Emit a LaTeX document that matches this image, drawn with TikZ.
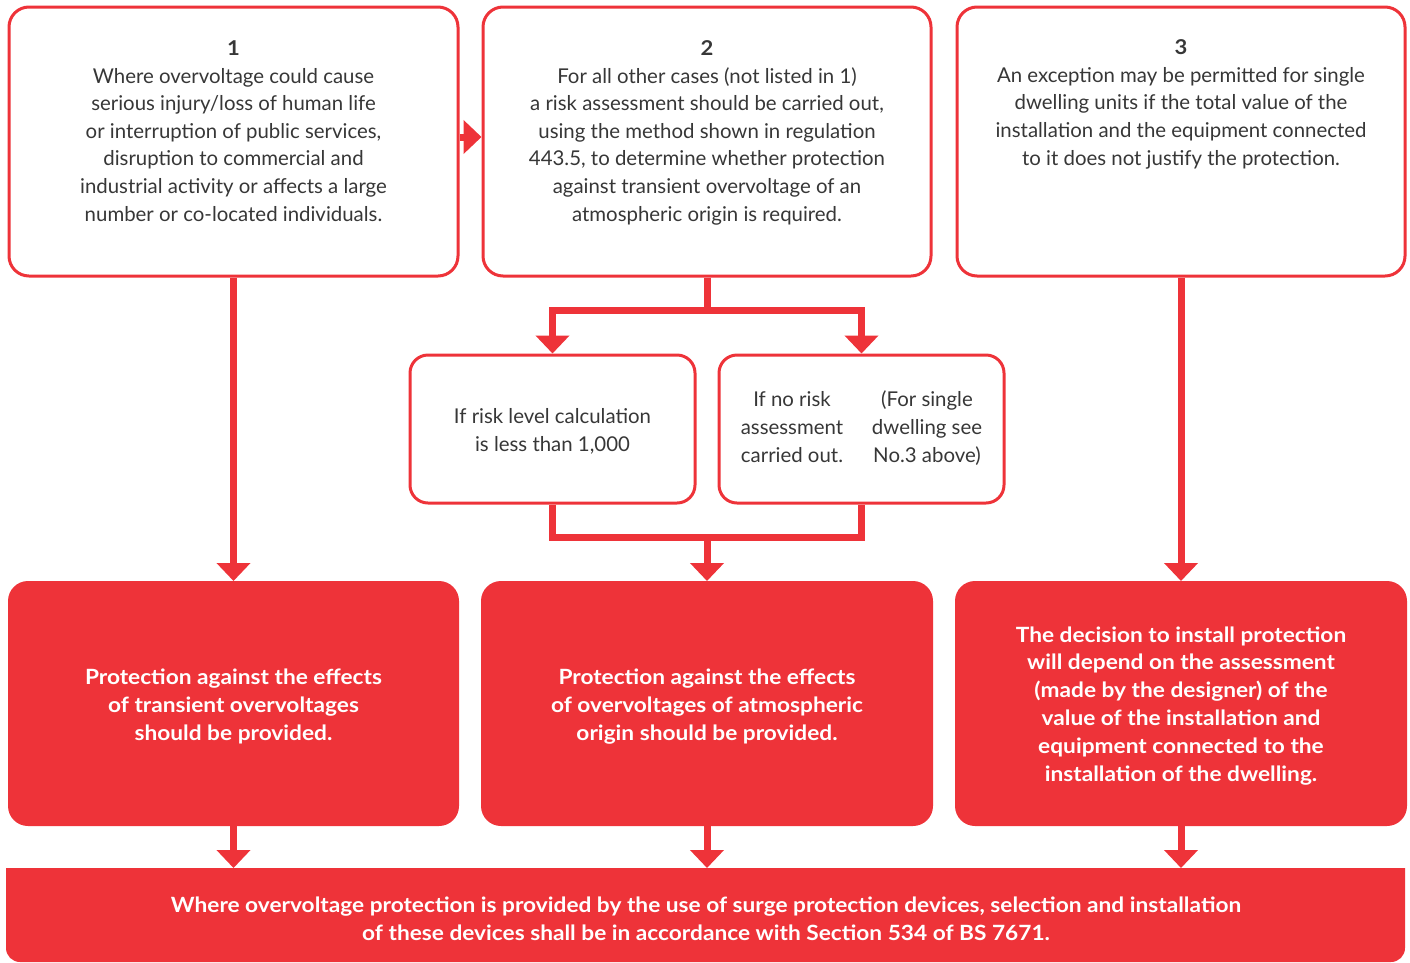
\documentclass[tikz,border=0pt]{standalone}
\usepackage{fontspec}
\setmainfont{Lato}[BoldFeatures={FakeStretch=1.08}]
\usetikzlibrary{arrows.meta}
\definecolor{rd}{RGB}{238,51,57}
\definecolor{tx}{RGB}{55,55,55}
\begin{document}
\begin{tikzpicture}[x=1pt,y=-1pt,
 box/.style={draw=rd, line width=3pt, rounded corners=20pt, fill=white, inner sep=0},
 sbox/.style={draw=rd, line width=3pt, rounded corners=18pt, fill=white, inner sep=0},
 fbox/.style={fill=rd, rounded corners=20pt, inner sep=0, outer sep=0},
 txt/.style={align=center, text=tx, font=\fontsize{20.4}{27.6}\selectfont, inner sep=0},
 wtxt/.style={align=center, text=white, font=\fontsize{21}{27.8}\selectfont\bfseries, inner sep=0},
 conn/.style={draw=rd, line width=7pt},
 arr/.style={conn, -{Triangle[width=33pt,length=18pt]}},
]
\useasboundingbox (0,0) rectangle (1410,962);

% top boxes
\node[box, minimum width=449pt, minimum height=269pt] (b1) at (233.5,141.5) {};
\node[box, minimum width=448pt, minimum height=269pt] (b2) at (707,141.5) {};
\node[box, minimum width=448pt, minimum height=269pt] (b3) at (1181,141.5) {};

% small boxes
\node[sbox, minimum width=285pt, minimum height=148pt] (sa) at (552.5,429) {};
\node[sbox, minimum width=285pt, minimum height=148pt] (sb) at (861.5,429) {};

% filled boxes
\node[fbox, minimum width=451pt, minimum height=245pt] (f1) at (233.5,703.5) {};
\node[fbox, minimum width=452pt, minimum height=245pt] (f2) at (707,703.5) {};
\node[fbox, minimum width=452pt, minimum height=245pt] (f3) at (1181,703.5) {};

% bottom bar
\node[inner sep=0, outer sep=0, minimum width=1399pt, minimum height=94pt] (bar) at (705.5,915) {};
\fill[rd] (bar.north west) -- (bar.north east) [rounded corners=14pt] -- (bar.south east) -- (bar.south west) [sharp corners] -- cycle;

% connectors
\draw[arr] ([yshift=4.5pt]b1.east) -- ([yshift=4.5pt]b2.west);
\draw[arr] (b1.south) -- (f1.north);
\draw[arr] (b3.south) -- (f3.north);
\coordinate (j1) at (707,310);
\coordinate (j2) at (707,537);
\draw[conn] (b2.south) -- (j1);
\draw[arr] (j1) -| (sa.north);
\draw[arr] (j1) -| (sb.north);
\draw[conn] (sa.south) |- (j2) -| (sb.south);
\draw[arr] (j2) -- (f2.north);
\draw[arr] (f1.south) -- (f1.south |- bar.north);
\draw[arr] (f2.south) -- (f2.south |- bar.north);
\draw[arr] (f3.south) -- (f3.south |- bar.north);

% texts (base anchor = baseline of last line)
\node[txt, anchor=base] (t1) at (233.5,221) {\textbf{1}\\Where overvoltage could cause\\serious injury/loss of human life\\or interruption of public services,\\disruption to commercial and\\industrial activity or affects a large\\number or co-located individuals.};
\node[txt, anchor=base] (t2) at (707,221) {\textbf{2}\\For all other cases (not listed in 1)\\a risk assessment should be carried out,\\using the method shown in regulation\\443.5, to determine whether protection\\against transient overvoltage of an\\atmospheric origin is required.};
\node[txt, anchor=base] (t3) at (1181,165) {\textbf{3}\\An exception may be permitted for single\\dwelling units if the total value of the\\installation and the equipment connected\\to it does not justify the protection.};
\node[txt, anchor=base] (ta) at (552.5,451) {If risk level calculation\\is less than 1,000};
\node[txt, anchor=base] (tb1) at (792,462) {If no risk\\assessment\\carried out.};
\node[txt, anchor=base] (tb2) at (927,462) {(For single\\dwelling see\\No.3 above)};
\node[wtxt, anchor=base] (tf1) at (233.5,740) {Protection against the effects\\of transient overvoltages\\should be provided.};
\node[wtxt, anchor=base] (tf2) at (707,740) {Protection against the effects\\of overvoltages of atmospheric\\origin should be provided.};
\node[wtxt, anchor=base] (tf3) at (1181,781) {The decision to install protection\\will depend on the assessment\\(made by the designer) of the\\value of the installation and\\equipment connected to the\\installation of the dwelling.};
\node[wtxt, anchor=base] (tbar) at (706,940) {Where overvoltage protection is provided by the use of surge protection devices, selection and installation\\of these devices shall be in accordance with Section 534 of BS 7671.};
\end{tikzpicture}
\end{document}
